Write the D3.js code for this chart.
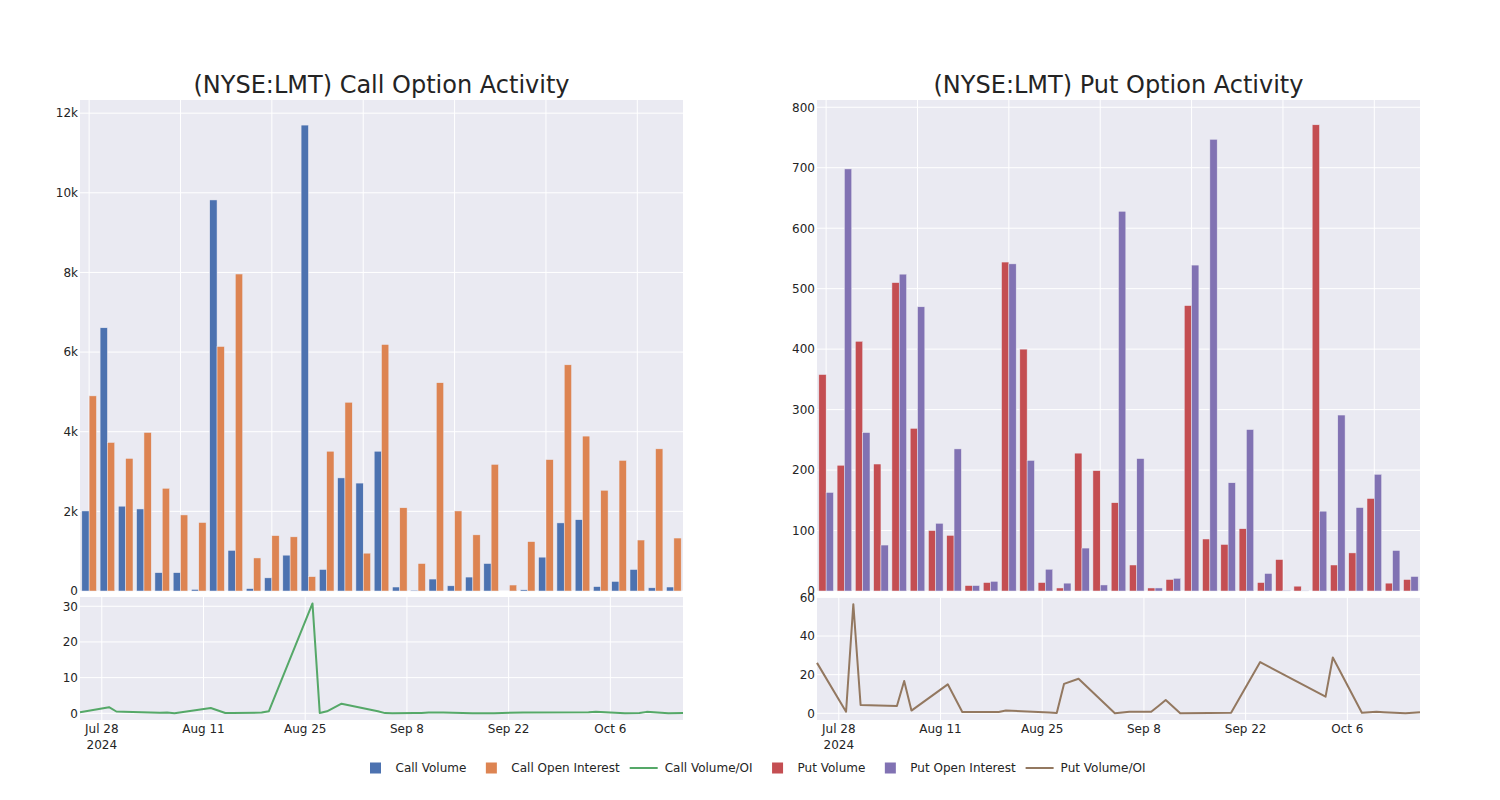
<!DOCTYPE html>
<html>
<head>
<meta charset="utf-8">
<script src="https://cdn.jsdelivr.net/npm/d3@7"></script>
<style>
  html, body { margin: 0; padding: 0; background: #ffffff; }
  svg { display: block; font-family: 'DejaVu Sans', sans-serif; }
</style>
</head>
<body>
<svg id="chart" width="1500" height="800"></svg>
<script>
// ---------------- DATA ----------------
const dates = ["2024-07-25","2024-07-29","2024-07-30","2024-07-31","2024-08-05","2024-08-06","2024-08-07",
  "2024-08-12","2024-08-14","2024-08-15","2024-08-19","2024-08-20","2024-08-26","2024-08-27","2024-08-28",
  "2024-08-30","2024-09-04","2024-09-05","2024-09-06","2024-09-09","2024-09-10","2024-09-11","2024-09-13",
  "2024-09-17","2024-09-20","2024-09-24","2024-10-03","2024-10-04","2024-10-08","2024-10-10","2024-10-11",
  "2024-10-14","2024-10-16"];

const callVolume = [2010, 6610, 2130, 2060, 460, 460, 40, 9820, 1020, 60, 330, 900, 11700, 540, 2840, 2710,
  3510, 100, 20, 300, 130, 350, 690, 0, 30, 850, 1710, 1790, 110, 240, 540, 80, 100];
const callOpenInterest = [4900, 3730, 3330, 3980, 2580, 1910, 1720, 6140, 7960, 830, 1390, 1360, 360, 3510, 4740, 950,
  6190, 2090, 690, 5230, 2010, 1410, 3180, 150, 1240, 3300, 5680, 3890, 2530, 3280, 1280, 3570, 1330];
const callVolOI = [0.3, 1.7, 0.5, 0.45, 0.18, 0.2, 0.02, 1.5, 0.1, 0.05, 0.2, 0.6, 30.8, 0.1, 0.55, 2.7,
  0.55, 0.05, 0.03, 0.06, 0.06, 0.2, 0.2, 0, 0.02, 0.25, 0.3, 0.4, 0.04, 0.07, 0.4, 0.02, 0.07];

const putVolume = [358, 208, 413, 210, 510, 269, 100, 92, 9, 14, 544, 400, 14, 5, 228, 199,
  146, 43, 5, 19, 472, 86, 77, 103, 14, 52, 8, 771, 43, 63, 153, 13, 19];
const putOpenInterest = [163, 698, 262, 76, 524, 470, 112, 235, 9, 16, 541, 216, 36, 13, 71, 10,
  628, 219, 5, 21, 539, 747, 179, 267, 29, 1, 0.5, 132, 291, 138, 193, 67, 24];
const putVolOI = [26.1, 0.8, 56.5, 4.3, 3.8, 16.7, 1.4, 15, 0.7, 0.7, 0.7, 1.5, 0.4, 0.2, 15.2, 17.9,
  0, 0.4, 0.8, 0.8, 3.8, 6.9, 0, 0.2, 0.3, 26.5, 8.6, 28.9, 0.3, 0.8, 0.6, 0, 0.6];

const callBarTicks = [0, 2000, 4000, 6000, 8000, 10000, 12000];
const putBarTicks = [0, 100, 200, 300, 400, 500, 600, 700, 800];
const callLineTicks = [0, 10, 20, 30];
const putLineTicks = [0, 20, 40, 60];
const dateTicks = ["2024-07-28","2024-08-11","2024-08-25","2024-09-08","2024-09-22","2024-10-06"];
const dateRange = ["2024-07-25","2024-10-16"];

const legendItems = [
  {label: "Call Volume", type: "bar", color: "#4C72B0"},
  {label: "Call Open Interest", type: "bar", color: "#DD8452"},
  {label: "Call Volume/OI", type: "line", color: "#55A868"},
  {label: "Put Volume", type: "bar", color: "#C44E52"},
  {label: "Put Open Interest", type: "bar", color: "#8172B3"},
  {label: "Put Volume/OI", type: "line", color: "#937860"}
];

// ---------------- LAYOUT ----------------
const svg = d3.select("#chart");
const TXT = "rgb(36,36,36)";
const BG = "#EAEAF2";
const barTop = 100, barBottom = 591, lineTop = 597, lineBottom = 720;
const parse = d3.utcParse("%Y-%m-%d");
const dateObjs = dates.map(parse);

function panel(cfg) {
  const {x0, x1, title, vol, oi, ratio, volColor, oiColor, lineColor, barDomainMax, barTicks, barFmt,
         lineDomain, lineTicks} = cfg;
  const g = svg.append("g");

  // title
  g.append("text").attr("x", (x0 + x1) / 2).attr("y", 92.5).attr("text-anchor", "middle")
    .attr("font-size", 24).attr("fill", TXT).text(title);

  // ---- bar subplot ----
  g.append("rect").attr("x", x0).attr("y", barTop).attr("width", x1 - x0).attr("height", barBottom - barTop).attr("fill", BG);
  const xb = d3.scaleBand().domain(d3.range(dates.length)).range([x0, x1]).paddingInner(0.2).paddingOuter(0.1);
  const xs = d3.scaleBand().domain(["vol", "oi"]).range([0, xb.bandwidth()]);
  const yb = d3.scaleLinear().domain([0, barDomainMax]).range([barBottom, barTop]);

  // gridlines
  g.append("g").selectAll("line.h").data(barTicks).join("line")
    .attr("x1", x0).attr("x2", x1).attr("y1", d => yb(d)).attr("y2", d => yb(d))
    .attr("stroke", "#fff").attr("stroke-width", 1);
  g.append("g").selectAll("line.v").data(d3.range(0, dates.length, 5)).join("line")
    .attr("x1", d => xb(d) + xb.bandwidth() / 2).attr("x2", d => xb(d) + xb.bandwidth() / 2)
    .attr("y1", barTop).attr("y2", barBottom).attr("stroke", "#fff").attr("stroke-width", 1);

  const bars = g.append("g");
  bars.selectAll("rect.vol").data(vol).join("rect")
    .attr("x", (d, i) => xb(i) + xs("vol")).attr("width", xs.bandwidth())
    .attr("y", d => yb(d)).attr("height", d => yb(0) - yb(d))
    .attr("fill", volColor).attr("stroke", BG).attr("stroke-width", 0.5);
  bars.selectAll("rect.oi").data(oi).join("rect")
    .attr("x", (d, i) => xb(i) + xs("oi")).attr("width", xs.bandwidth())
    .attr("y", d => yb(d)).attr("height", d => yb(0) - yb(d))
    .attr("fill", oiColor).attr("stroke", BG).attr("stroke-width", 0.5);

  const yAxisB = d3.axisLeft(yb).tickValues(barTicks).tickSize(0).tickPadding(2).tickFormat(barFmt);
  const ga = g.append("g").attr("transform", `translate(${x0},0)`).call(yAxisB);
  ga.select(".domain").remove();
  ga.selectAll("text").attr("font-size", 12).attr("fill", TXT).attr("font-family", "'DejaVu Sans', sans-serif");

  // ---- line subplot ----
  g.append("rect").attr("x", x0).attr("y", lineTop).attr("width", x1 - x0).attr("height", lineBottom - lineTop).attr("fill", BG);
  const xt = d3.scaleUtc().domain(dateRange.map(parse)).range([x0, x1]);
  const yl = d3.scaleLinear().domain(lineDomain).range([lineBottom, lineTop]);
  const tickDates = dateTicks.map(parse);

  g.append("g").selectAll("line").data(lineTicks).join("line")
    .attr("x1", x0).attr("x2", x1).attr("y1", d => yl(d)).attr("y2", d => yl(d))
    .attr("stroke", "#fff").attr("stroke-width", 1);
  g.append("g").selectAll("line").data(tickDates).join("line")
    .attr("x1", d => xt(d)).attr("x2", d => xt(d)).attr("y1", lineTop).attr("y2", lineBottom)
    .attr("stroke", "#fff").attr("stroke-width", 1);

  const line = d3.line().x((d, i) => xt(dateObjs[i])).y(d => yl(d));
  g.append("path").datum(ratio).attr("d", line).attr("fill", "none")
    .attr("stroke", lineColor).attr("stroke-width", 2).attr("stroke-linejoin", "round");

  const yAxisL = d3.axisLeft(yl).tickValues(lineTicks).tickSize(0).tickPadding(2).tickFormat(d3.format("d"));
  const gl = g.append("g").attr("transform", `translate(${x0},0)`).call(yAxisL);
  gl.select(".domain").remove();
  gl.selectAll("text").attr("font-size", 12).attr("fill", TXT).attr("font-family", "'DejaVu Sans', sans-serif");

  const fmt = d3.utcFormat("%b %-d");
  const xl = g.append("g");
  xl.selectAll("text.d").data(tickDates).join("text")
    .attr("x", d => xt(d)).attr("y", 733).attr("text-anchor", "middle")
    .attr("font-size", 12).attr("fill", TXT).text(d => fmt(d));
  xl.append("text").attr("x", xt(tickDates[0])).attr("y", 749).attr("text-anchor", "middle")
    .attr("font-size", 12).attr("fill", TXT).text(d3.utcFormat("%Y")(tickDates[0]));
}

const kFmt = d => d === 0 ? "0" : (d / 1000) + "k";

panel({x0: 80, x1: 683, title: "(NYSE:LMT) Call Option Activity", vol: callVolume, oi: callOpenInterest,
  ratio: callVolOI, volColor: "#4C72B0", oiColor: "#DD8452", lineColor: "#55A868",
  barDomainMax: 12330, barTicks: callBarTicks, barFmt: kFmt, lineDomain: [-1.88, 32.6], lineTicks: callLineTicks});

panel({x0: 817, x1: 1420, title: "(NYSE:LMT) Put Option Activity", vol: putVolume, oi: putOpenInterest,
  ratio: putVolOI, volColor: "#C44E52", oiColor: "#8172B3", lineColor: "#937860",
  barDomainMax: 812, barTicks: putBarTicks, barFmt: d3.format("d"), lineDomain: [-3.47, 60.2], lineTicks: putLineTicks});

// ---------------- LEGEND ----------------
const leg = svg.append("g");
let cx = 355.5;
const ly = 768;
legendItems.forEach(it => {
  const gi = leg.append("g");
  if (it.type === "bar") {
    gi.append("rect").attr("x", cx + 14.5).attr("y", ly - 5.5).attr("width", 11).attr("height", 11)
      .attr("fill", it.color);
  } else {
    gi.append("line").attr("x1", cx + 5).attr("x2", cx + 33).attr("y1", ly).attr("y2", ly)
      .attr("stroke", it.color).attr("stroke-width", 2);
  }
  const t = gi.append("text").attr("x", cx + 40).attr("y", ly + 4.3).attr("font-size", 12)
    .attr("fill", TXT).text(it.label);
  cx += 40 + t.node().getComputedTextLength() + 5;
});
</script>
</body>
</html>
